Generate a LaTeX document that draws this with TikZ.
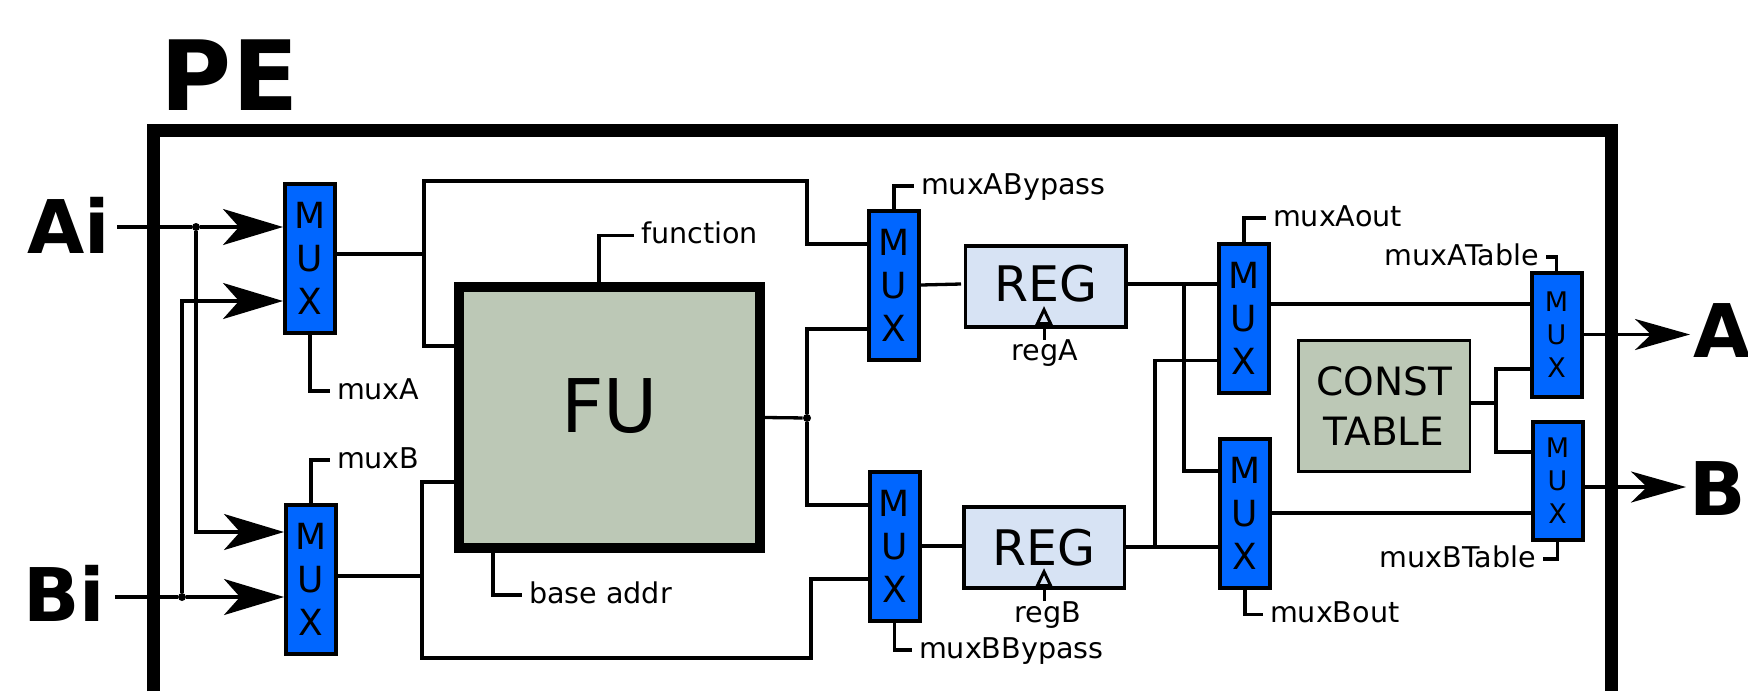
\documentclass[tikz,border=0pt]{standalone}
\usepackage{fontspec}
\setmainfont{DejaVu Sans}
\usetikzlibrary{arrows.meta}
\definecolor{muxblue}{HTML}{0066FF}
\definecolor{fugreen}{HTML}{BCC8B6}
\definecolor{regblue}{HTML}{D7E3F4}
\tikzset{
    wire/.style={line width=1.65pt},
    buswire/.style={line width=1.55pt},
    ctl/.style={line width=1.7pt},
    bigtip/.style={-{Stealth[length=30pt,width=18pt,inset=8pt]}},
    outtip/.style={-{Stealth[length=27.5pt,width=15.5pt,inset=8pt]}},
    clk/.style={line width=1.5pt,-{Triangle[open,length=9.5pt,width=8.5pt]}},
    muxbox/.style={rectangle,draw,line width=2pt,fill=muxblue,inner sep=0pt,minimum width=25pt,minimum height=74.5pt,align=center,font=\fontsize{18}{21.5}\selectfont},
    smallmux/.style={muxbox,minimum height=#1,font=\fontsize{13.5}{16.5}\selectfont},
    regbox/.style={rectangle,draw,line width=1.75pt,fill=regblue,minimum width=80.25pt,minimum height=40.5pt,font=\fontsize{24.5}{28}\selectfont},
    dotnode/.style={circle,fill,inner sep=0pt,minimum size=4pt},
    lab/.style={inner xsep=3.5pt,inner ysep=0pt,outer sep=0pt,text height=10.5pt,text depth=2.5pt,font=\fontsize{14.3}{17}\selectfont},
    bigname/.style={inner sep=0pt,anchor=base west,font=\fontsize{37}{40}\selectfont\bfseries}
}
\begin{document}
\begin{tikzpicture}[x=0.5pt,y=-0.5pt]
            \useasboundingbox (0,0) rectangle (1748,691);
            \draw [line width=6.5pt] (153.5,691) -- (153.5,130.5) -- (1611,130.5) -- (1611,691);

            \draw (160.5,110) node (pe) [inner sep=0pt,anchor=base west,font=\fontsize{48.5}{52}\selectfont\bfseries] {PE};
            \draw (27,253) node (ailab) [bigname] {Ai};
            \draw (23,621) node (bilab) [bigname] {Bi};
            \draw (1693,357) node (alab) [bigname] {A};
            \draw (1689.5,515) node (blab) [bigname] {B};

            \draw (310,258.5) node (muxa) [muxbox] {M\\U\\X};
            \draw (311,579) node (muxb) [muxbox] {M\\U\\X};
            \draw (894,285) node (muxc) [muxbox] {M\\U\\X};
            \draw (894.5,546) node (muxd) [muxbox] {M\\U\\X};
            \draw (1244,318) node (muxe) [muxbox] {M\\U\\X};
            \draw (1245,513) node (muxf) [muxbox] {M\\U\\X};
            \draw (1556.5,334.5) node (muxg) [smallmux=62pt] {M\\U\\X};
            \draw (1557.5,481) node (muxh) [smallmux=59pt] {M\\U\\X};

            \draw (609.5,417.5) node (fu) [rectangle,draw,line width=5pt,fill=fugreen,minimum width=150.5pt,minimum height=130.5pt,text depth=11.5pt,font=\fontsize{37}{40}\selectfont] {FU};
            \draw (1045.5,286.5) node (rega) [regbox,text depth=3pt] {REG};
            \draw (1044,547.5) node (regb) [regbox] {REG};
            \draw (1384,405.75) node (table) [rectangle,draw,line width=1.25pt,fill=fugreen,minimum width=85.75pt,minimum height=65.5pt,inner sep=0pt,align=center,font=\fontsize{19.5}{25}\selectfont] {CONST\\TABLE};

            \draw (196,227) node (dota) [dotnode] {};
            \draw (182,597) node (dotb) [dotnode] {};
            \draw (807,418) node (dotc) [dotnode] {};

            \draw (330,399) node (lmuxa) [lab,anchor=base west] {muxA};
            \draw (330,468) node (lmuxb) [lab,anchor=base west] {muxB};
            \draw (634,243.5) node (lfunc) [lab,anchor=base west] {function};
            \draw (522,603) node (lbase) [lab,anchor=base west] {base addr};
            \draw (914,194) node (lmuxc) [lab,anchor=base west] {muxABypass};
            \draw (912,658) node (lmuxd) [lab,anchor=base west] {muxBBypass};
            \draw (1266,226) node (lmuxe) [lab,anchor=base west] {muxAout};
            \draw (1263,622.5) node (lmuxf) [lab,anchor=base west] {muxBout};
            \draw (1546,265) node (lmuxg) [lab,anchor=base east] {muxATable};
            \draw (1543,567) node (lmuxh) [lab,anchor=base east] {muxBTable};
            \draw (1045,360.5) node (lrega) [lab,anchor=base] {regA};
            \draw (1048,622) node (lregb) [lab,anchor=base] {regB};

            \coordinate (astart) at (117,227);
            \coordinate (bstart) at (115,597);
            \coordinate (ina) at (284,301);
            \coordinate (inb) at (285,532);
            \coordinate (ta) at (424,254);
            \coordinate (fa) at (424,346);
            \coordinate (ca) at (807,181);
            \coordinate (cb) at (807,244);
            \coordinate (ce) at (869,329);
            \coordinate (tb) at (422,576);
            \coordinate (fb) at (422,482);
            \coordinate (cc) at (811,658);
            \coordinate (cd) at (811,579);
            \coordinate (cf) at (869,505);
            \coordinate (gapa) at (961,284);
            \coordinate (ra) at (1184,284);
            \coordinate (rc) at (1184,471);
            \coordinate (rb) at (1155,547);
            \coordinate (rd) at (1155,360.5);
            \coordinate (oa) at (1531,304);
            \coordinate (td) at (1496,403);
            \coordinate (te) at (1496,369);
            \coordinate (tf) at (1496,452);
            \coordinate (outa) at (1690,334.5);
            \coordinate (outb) at (1686,487);
            \coordinate (funa) at (599,236);
            \coordinate (basea) at (493,595);
            \coordinate (clka) at (1044,306);
            \coordinate (clkb) at (1044,568);

            \draw [wire,bigtip] (astart) -- (dota) -- (dota -| muxa.west);
            \draw [wire,bigtip] (bstart) -- (dotb) -- (dotb -| muxb.west);
            \draw [wire,bigtip] (dota) |- (inb -| muxb.west);
            \draw [wire,bigtip] (dotb) |- (ina -| muxa.west);

            \draw [wire] (ta -| muxa.east) -- (ta);
            \draw [buswire] (fa -| fu.west) -- (fa) |- (ca) -- (cb) -- (cb -| muxc.west);
            \draw [wire] (tb -| muxb.east) -- (tb);
            \draw [buswire] (fb -| fu.west) -- (fb) |- (cc) -- (cd) -- (cd -| muxd.west);

            \draw [wire] (fu.east) -- (dotc);
            \draw [wire] (dotc) |- (ce -| muxc.west);
            \draw [wire] (dotc) |- (cf -| muxd.west);

            \draw [wire] (muxc.east) -- (gapa);
            \draw [wire] (muxd.east) -- (muxd.east -| regb.west);
            \draw [wire] (ra -| rega.east) -- (ra -| muxe.west);
            \draw [wire] (ra) |- (rc -| muxf.west);
            \draw [wire] (rb -| regb.east) -- (rb -| muxf.west);
            \draw [wire] (rb) |- (rd -| muxe.west);

            \draw [wire] (oa -| muxe.east) -- (oa -| muxg.west);
            \draw [wire] (muxf.east) -- (muxf.east -| muxh.west);
            \draw [wire] (td -| table.east) -- (td);
            \draw [wire] (te -| muxg.west) -- (te) -- (tf) -- (tf -| muxh.west);

            \draw [wire,outtip] (muxg.east) -- (outa);
            \draw [wire,outtip] (outb -| muxh.east) -- (outb);

            \draw [ctl] (muxa.south) |- (lmuxa.west);
            \draw [ctl] (muxb.north) |- (lmuxb.west);
            \draw [ctl] (funa |- fu.north) |- (lfunc.west);
            \draw [ctl] (basea |- fu.south) |- (lbase.west);
            \draw [ctl] (muxc.north) |- (lmuxc.west);
            \draw [ctl] (muxd.south) |- (lmuxd.west);
            \draw [ctl] (muxe.north) |- (lmuxe.west);
            \draw [ctl] (muxf.south) |- (lmuxf.west);
            \draw [ctl] (muxg.north) |- (lmuxg.east);
            \draw [ctl] (muxh.south) |- (lmuxh.east);

            \draw [clk] (clka |- lrega.north) -- (clka);
            \draw [clk] (clkb |- lregb.north) -- (clkb);
        \end{tikzpicture}
\end{document}
